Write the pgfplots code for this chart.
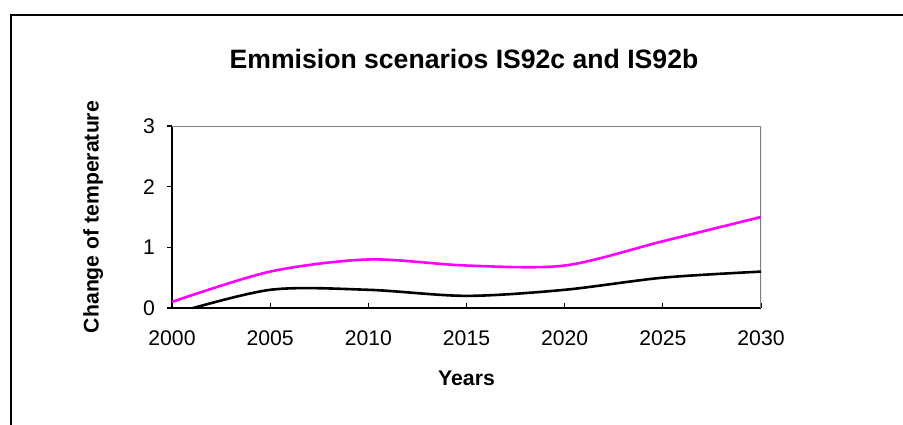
\documentclass[border=0pt]{standalone}
\usepackage{pgfplots}
\pgfplotsset{compat=1.18}
\usepackage{fontspec}
\setmainfont{Liberation Sans}
\definecolor{mag}{RGB}{255,0,255}
\begin{document}
\begin{tikzpicture}[x=1pt,y=1pt]
\path[use as bounding box] (0,0) rectangle (451.5,212);
\draw[line width=1pt] (5.5,-2) -- (5.5,204.5) -- (455,204.5);
\node[font=\bfseries\fontsize{13.3}{15}\selectfont] at (232,182.5) {Emmision scenarios IS92c and IS92b};
\begin{axis}[
  at={(86pt,58pt)}, anchor=south west,
  scale only axis, width=294.5pt, height=91pt,
  xmin=2000, xmax=2030, ymin=0, ymax=3,
  xtick={2000,2005,...,2030}, ytick={0,1,2,3},
  axis x line*=bottom, axis y line*=left,
  axis line style={line width=1pt, black},
  tick align=inside,
  major tick length=2.5pt,
  tick style={line width=0.6pt, black},
  ytick style={xshift=-2.5pt},
  /pgf/number format/assume math mode=true,
  /pgf/number format/1000 sep={},
  ticklabel style={font=\fontsize{10.6}{12}\selectfont},
  xticklabel style={yshift=-8pt},
  yticklabel style={xshift=-5pt},
  xlabel={Years}, ylabel={Change of temperature},
  label style={font=\bfseries\fontsize{10.6}{12}\selectfont},
  xlabel style={at={(axis description cs:0.5,-0.385)}, anchor=center},
  ylabel style={at={(axis description cs:-0.134,0.5)}, anchor=center, rotate=0},
]
\draw[gray, line width=1pt] (rel axis cs:0,1) -- (rel axis cs:1,1) -- (rel axis cs:1,0);
\addplot[mag, line width=1.3pt, smooth] coordinates {
 (2000,0.1) (2005,0.6) (2010,0.8) (2015,0.7) (2020,0.7) (2025,1.1) (2030,1.5)};
\addplot[black, line width=1.3pt, smooth] coordinates {
 (2000,-0.1) (2005,0.3) (2010,0.3) (2015,0.2) (2020,0.3) (2025,0.5) (2030,0.6)};
\end{axis}
\end{tikzpicture}
\end{document}
